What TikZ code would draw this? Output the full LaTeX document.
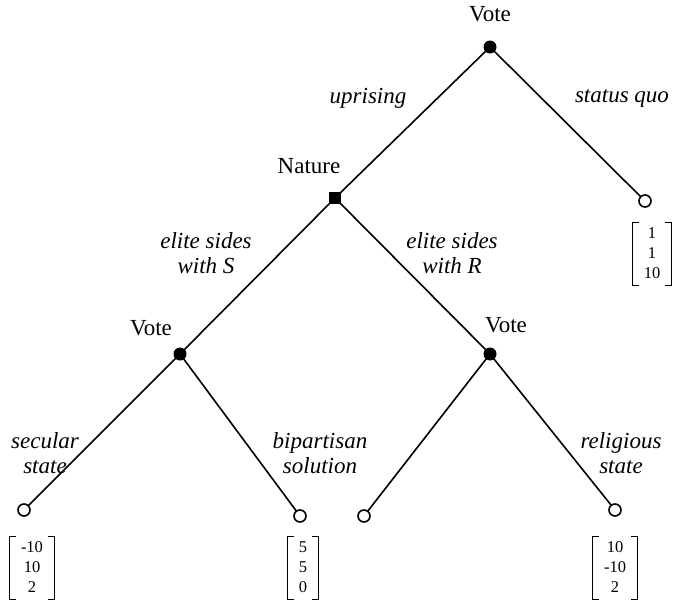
\documentclass[tikz,border=0pt]{standalone}
\usepackage{fontspec}
\setmainfont{Liberation Serif}
\setlength{\tabcolsep}{10pt}
\newcommand{\payoffbrackets}[1]{%
  \draw[line width=1.1pt] ([xshift=6pt]#1.north west) -- (#1.north west) -- (#1.south west) -- ([xshift=6pt]#1.south west);
  \draw[line width=1.1pt] ([xshift=-6pt]#1.north east) -- (#1.north east) -- (#1.south east) -- ([xshift=-6pt]#1.south east);}
\begin{document}
\begin{tikzpicture}[x=1pt,y=-1pt,
  edge/.style={line width=1.6pt},
  dec/.style={circle,fill=black,inner sep=0pt,minimum size=13pt},
  chance/.style={rectangle,fill=black,inner sep=0pt,minimum size=12.5pt},
  term/.style={circle,draw=black,line width=1.6pt,fill=white,inner sep=0pt,minimum size=12pt},
  lbl/.style={font=\fontsize{23}{26}\selectfont},
  act/.style={font=\fontsize{23}{25}\selectfont\itshape,align=center},
  payoff/.style={font=\fontsize{16.5}{20}\selectfont,inner sep=1pt}
]
\useasboundingbox (0,0) rectangle (678,605);
\coordinate (v1) at (490,47);
\coordinate (sq) at (645,201);
\coordinate (na) at (335,198);
\coordinate (v2) at (180,354);
\coordinate (v3) at (490,354);
\coordinate (t1) at (24,510);
\coordinate (t2) at (300,516);
\coordinate (t3) at (364,516);
\coordinate (t4) at (615,510);
\draw[edge] (v1) -- (na) (v1) -- (sq) (na) -- (v2) (na) -- (v3)
  (v2) -- (t1) (v2) -- (t2) (v3) -- (t3) (v3) -- (t4);
\node[dec] (V1) at (v1) {};
\node[chance] (N) at (na) {};
\node[dec] (V2) at (v2) {};
\node[dec] (V3) at (v3) {};
\node[term] (SQ) at (sq) {};
\node[term] (T1) at (t1) {};
\node[term] (T2) at (t2) {};
\node[term] (T3) at (t3) {};
\node[term] (T4) at (t4) {};
% player labels
\node[lbl] (lV1) at (490,14) {Vote};
\node[lbl] (lN) at (309,166) {Nature};
\node[lbl] (lV2) at (151,328) {Vote};
\node[lbl] (lV3) at (506,325) {Vote};
% action labels
\node[act] (a1) at (368,98) {uprising};
\node[act] (a2) at (622,98) {status quo};
\node[act] (a3) at (206,253) {elite sides\\with S};
\node[act] (a4) at (452,253) {elite sides\\with R};
\node[act] (a5) at (45,453) {secular\\state};
\node[act] (a6) at (320,453) {bipartisan\\solution};
\node[act] (a7) at (621,453) {religious\\state};
% payoffs
\node[payoff] (p0) at (652,254) {\begin{tabular}{c}1\\1\\10\end{tabular}};
\node[payoff] (p1) at (32,568) {\begin{tabular}{c}-10\\10\\2\end{tabular}};
\node[payoff] (p2) at (303,568) {\begin{tabular}{c}5\\5\\0\end{tabular}};
\node[payoff] (p3) at (615,568) {\begin{tabular}{c}10\\-10\\2\end{tabular}};
\payoffbrackets{p0}
\payoffbrackets{p1}
\payoffbrackets{p2}
\payoffbrackets{p3}
\end{tikzpicture}
\end{document}
